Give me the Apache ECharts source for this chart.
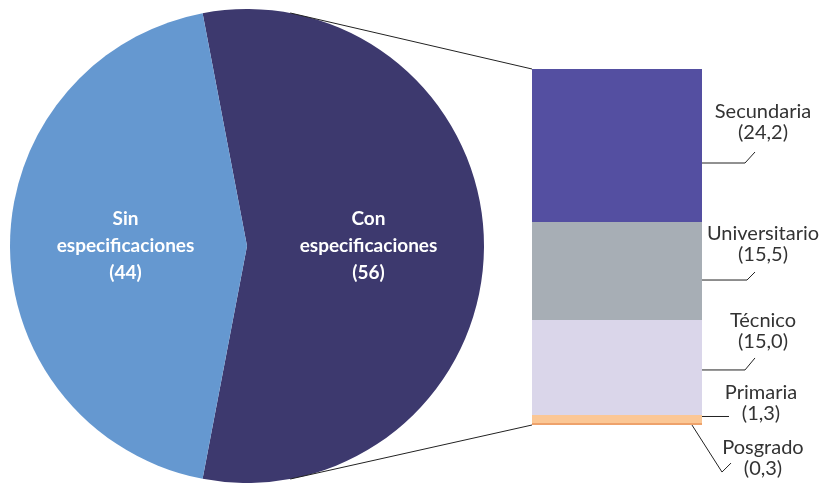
<!DOCTYPE html>
<html>
<head>
<meta charset="utf-8">
<script src="https://cdn.jsdelivr.net/npm/echarts@6/dist/echarts.min.js"></script>
<style>
  html, body { margin: 0; padding: 0; background: #ffffff; }
  #chart { width: 824px; height: 483px; }
</style>
</head>
<body>
<div id="chart"></div>
<script>
// Pie: share of records with / without a specified education level
const pieNames = ['Con\nespecificaciones', 'Sin\nespecificaciones'];
const pieValues = [56, 44];
const pieLabels = ['(56)', '(44)'];

// Breakdown of the "Con especificaciones" slice
const levelNames = ['Secundaria', 'Universitario', 'Técnico', 'Primaria', 'Posgrado'];
const levelValues = [24.2, 15.5, 15.0, 1.3, 0.3];
const levelLabels = ['(24,2)', '(15,5)', '(15,0)', '(1,3)', '(0,3)'];

const pieColors = ['#3d396e', '#6598d0'];
const levelColors = ['#544fa1', '#a7aeb5', '#dad6ea', '#fbc795', '#eea26b'];

// Leader shapes for the level labels, in px relative to (bar right edge, segment middle)
const leaderStyle = [
  { pts: [[0, 17.5], [43, 17.5], [53, 6.5]], text: [61, -23.5] },
  { pts: [[0, 9], [45, 9], [53, 1]], text: [61, -26.5] },
  { pts: [[0, 2.5], [43, 2.5], [53, -9.5]], text: [61, -36.5] },
  { pts: [[0, -2.5], [27, -2.5]], text: [59, -16] },
  { pts: [[-10, 1], [20, 48], [29, 39]], text: [61, 34] }
];

const FONT = 'Lato, "Noto Sans", sans-serif';

// Cumulative extents of each stacked segment
let acc = 0;
const segments = levelValues.map((v, i) => {
  const s = [acc, acc + v, i];
  acc += v;
  return s;
});
const total = acc;

const chart = echarts.init(document.getElementById('chart'), null, { renderer: 'canvas' });

const PIE_CENTER = [247, 246];
const PIE_RADIUS = 237;
// Con slice centred on the right-hand horizontal
const conHalf = pieValues[0] / (pieValues[0] + pieValues[1]) * 180;

chart.setOption({
  animation: false,
  grid: { left: 532, top: 69, width: 170, height: 356 },
  xAxis: { type: 'value', min: 0, max: 1, show: false },
  yAxis: { type: 'value', min: 0, max: total, inverse: true, show: false },
  series: [
    {
      type: 'pie',
      center: PIE_CENTER,
      radius: PIE_RADIUS,
      startAngle: conHalf,
      clockwise: true,
      silent: true,
      label: {
        show: true,
        position: 'inner',
        color: '#ffffff',
        fontFamily: FONT,
        fontSize: 19,
        fontWeight: 'bold',
        lineHeight: 27,
        align: 'center',
        formatter: p => p.name + '\n' + pieLabels[p.dataIndex]
      },
      labelLine: { show: false },
      itemStyle: { borderWidth: 0 },
      data: pieValues.map((v, i) => ({ name: pieNames[i], value: v, itemStyle: { color: pieColors[i] } }))
    },
    {
      type: 'custom',
      silent: true,
      data: segments,
      encode: { y: [0, 1] },
      renderItem: function (params, api) {
        const i = api.value(2);
        const a = api.coord([0, api.value(0)]);
        const b = api.coord([1, api.value(1)]);
        const midY = (a[1] + b[1]) / 2;
        const lay = leaderStyle[i];
        return {
          type: 'group',
          children: [
            {
              type: 'rect',
              shape: { x: a[0], y: a[1], width: b[0] - a[0], height: b[1] - a[1] },
              style: { fill: levelColors[i] }
            },
            {
              type: 'polyline',
              shape: { points: lay.pts.map(p => [b[0] + p[0], midY + p[1]]) },
              style: { stroke: '#222222', lineWidth: 1, fill: null }
            },
            {
              type: 'text',
              x: b[0] + lay.text[0],
              y: midY + lay.text[1],
              style: {
                text: levelNames[i] + '\n' + levelLabels[i],
                fill: '#333333',
                font: '20px ' + FONT,
                lineHeight: 21,
                align: 'center',
                verticalAlign: 'middle'
              }
            }
          ]
        };
      }
    }
  ]
});

// Connector lines from the Con slice to the top and bottom of the stacked bar
function drawConnectors() {
  const angle = 79.5 * Math.PI / 180;
  const topPie = [PIE_CENTER[0] + PIE_RADIUS * Math.cos(angle), PIE_CENTER[1] - PIE_RADIUS * Math.sin(angle)];
  const botPie = [PIE_CENTER[0] + PIE_RADIUS * Math.cos(angle), PIE_CENTER[1] + PIE_RADIUS * Math.sin(angle)];
  const topBar = chart.convertToPixel({ gridIndex: 0 }, [0, 0]);
  const botBar = chart.convertToPixel({ gridIndex: 0 }, [0, total]);
  chart.setOption({
    graphic: [
      { type: 'line', shape: { x1: topPie[0], y1: topPie[1], x2: topBar[0], y2: topBar[1] }, style: { stroke: '#222222', lineWidth: 1 }, z: 10 },
      { type: 'line', shape: { x1: botPie[0], y1: botPie[1], x2: botBar[0], y2: botBar[1] }, style: { stroke: '#222222', lineWidth: 1 }, z: 10 }
    ]
  });
}
drawConnectors();
</script>
</body>
</html>
